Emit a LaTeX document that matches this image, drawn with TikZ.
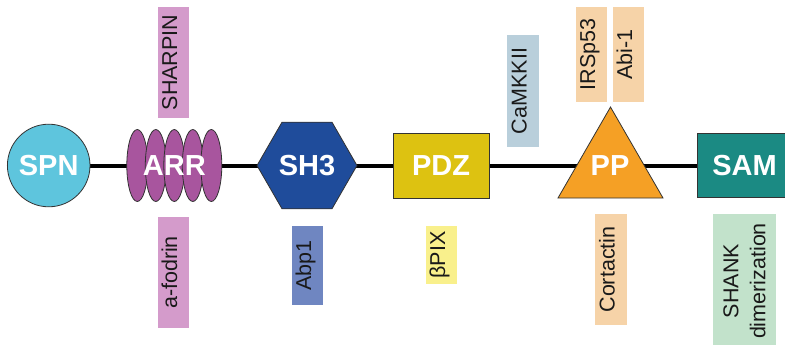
\documentclass[tikz,border=0pt]{standalone}
\usepackage{fontspec}
\setmainfont{Liberation Sans}
\usetikzlibrary{shapes.geometric,backgrounds}
\definecolor{cSPN}{HTML}{5EC5DD}
\definecolor{cARR}{HTML}{A8559E}
\definecolor{cSHT}{HTML}{1F4C9B}
\definecolor{cPDZ}{HTML}{DDC211}
\definecolor{cPP}{HTML}{F5A025}
\definecolor{cSAM}{HTML}{1B8A83}
\definecolor{lPurple}{HTML}{D49BCB}
\definecolor{lBlue}{HTML}{6F86C1}
\definecolor{lYellow}{HTML}{F9F08C}
\definecolor{lGrey}{HTML}{B9CFDB}
\definecolor{lPeach}{HTML}{F6D3A8}
\definecolor{lGreen}{HTML}{C2E2CB}
\begin{document}
\begin{tikzpicture}[x=1pt,y=-1pt,
  dom/.style={draw=black!80, line width=0.8pt, text=white, inner sep=0pt,
    font=\bfseries\fontsize{29}{29}\selectfont},
  domtext/.style={text=white, inner sep=0pt, font=\bfseries\fontsize{29}{29}\selectfont},
  repeatell/.style={draw=black!80, line width=0.8pt, fill=cARR, ellipse, inner sep=0pt,
    minimum width=21pt, minimum height=72pt},
  lab/.style={rotate=90, inner sep=0pt, text=black!90,
    font=\fontsize{21.5}{27}\selectfont, text height=0.72em, text depth=0pt},
  backbone/.style={line width=4pt, black}
]
\useasboundingbox (0,0) rectangle (785,345);

% domains
\node[dom, circle, fill=cSPN, minimum size=82.6pt] (spn) at (48.7,165.5) {SPN};
\foreach \i/\x in {1/137.3,2/155.8,3/174.3,4/192.8,5/211.3}
  \node[repeatell] (arr\i) at (\x,165.5) {};
\node[domtext] (arr) at (174.3,165.5) {ARR};
\node[dom, regular polygon, regular polygon sides=6, minimum size=100pt, fill=cSHT] (sh3) at (307,165.5) {SH3};
\node[dom, rectangle, fill=cPDZ, minimum width=96pt, minimum height=65pt] (pdz) at (441,165.5) {PDZ};
\node[dom, regular polygon, regular polygon sides=3, minimum size=121.3pt, fill=cPP] (pp) at (610.5,167.7) {};
\node[domtext] (pptext) at (610,165.5) {PP};
\node[dom, rectangle, fill=cSAM, minimum width=94.7pt, minimum height=64.3pt] (sam) at (744.6,165.5) {SAM};

\begin{pgfonlayer}{background}
  \draw[backbone] (spn.center) -- (sam.center);
\end{pgfonlayer}

% interaction partners
\node[lab, fill=lPurple, minimum width=111pt, minimum height=31pt] (sharpin) at (173.5,62.5) {SHARPIN};
\node[lab, fill=lPurple, minimum width=111pt, minimum height=31pt] (fodrin) at (173.5,272.5) {a-fodrin};
\node[lab, fill=lBlue, minimum width=79pt, minimum height=31pt] (abp) at (307.5,265.5) {Abp1};
\node[lab, fill=lYellow, minimum width=58pt, minimum height=31pt] (bpix) at (441.5,255) {βPIX};
\node[lab, fill=lGrey, minimum width=112pt, minimum height=32pt] (camk) at (523,91) {CaMKKII};
\node[lab, fill=lPeach, minimum width=95pt, minimum height=31pt] (irsp) at (591.5,54.5) {IRSp53};
\node[lab, fill=lPeach, minimum width=95pt, minimum height=31pt] (abi) at (628.5,54.5) {Abi-1};
\node[lab, fill=lPeach, minimum width=111pt, minimum height=32pt] (cort) at (611,269.5) {Cortactin};
\node[rotate=90, inner sep=0pt, text=black!90, font=\fontsize{21.5}{27}\selectfont,
  align=center, fill=lGreen, minimum width=134pt, minimum height=63pt] (shank) at (744.5,281) {SHANK\\dimerization};
\end{tikzpicture}
\end{document}
